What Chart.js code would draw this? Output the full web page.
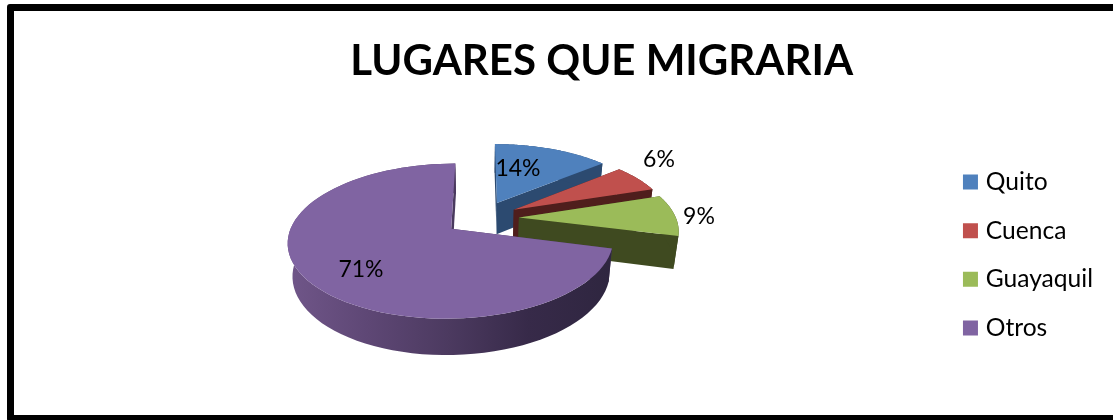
<!DOCTYPE html>
<html>
<head>
<meta charset="utf-8">
<title>Lugares que migraria</title>
<script src="https://cdn.jsdelivr.net/npm/chart.js@4/dist/chart.umd.min.js"></script>
<style>
  html, body { margin: 0; padding: 0; background: #fff; overflow: hidden; }
  #wrap { position: relative; width: 1113px; height: 420px; overflow: hidden; }
  #grafico { position: absolute; left: 0; top: 0; }
  /* marco negro, el lado derecho queda fuera de la imagen */
  #marco { position: absolute; left: 7px; top: 4px; width: 1200px; height: 404px;
           border: 7px solid #000; border-radius: 3px; pointer-events: none; }
</style>
</head>
<body>
<div id="wrap">
  <canvas id="grafico" width="1113" height="420"></canvas>
  <div id="marco"></div>
</div>
<script>
const categorias = ['Quito', 'Cuenca', 'Guayaquil', 'Otros'];
const valores = [14, 6, 9, 71];
const titulo = 'LUGARES QUE MIGRARIA';

const coloresCara = ['#4F81BD', '#C0504D', '#9BBB59', '#8064A2'];
const coloresLado = ['#2C4A70', '#4F1E1C', '#3F4A20', '#4A3A5E'];
const posEtiquetas = [[518, 169], [659, 160], [699, 217], [361, 270]];

// Proyeccion del pastel inclinado (Chart.js calcula los angulos)
const centroX = 481.5, centroY = 218, radio = 157, separacion = 37.5;
const inclinacion = 0.46, perspectiva = 0.155, alto = 32, encogeBase = 0.975;

function proyectar(u, v) {
    const s = 1 / (1 + perspectiva * v / radio);
    return { x: centroX + u * s, y: centroY - v * inclinacion * s, s: s };
}

function base(p) {
    return {
        x: centroX + (p.x - centroX) * encogeBase,
        y: centroY + (p.y - centroY) * encogeBase + alto * p.s
    };
}

function puntoArco(arc, angulo, r) {
    const medio = (arc.startAngle + arc.endAngle) / 2;
    const u = separacion * Math.cos(medio) + r * Math.cos(angulo);
    const v = -(separacion * Math.sin(medio) + r * Math.sin(angulo));
    return proyectar(u, v);
}

function rellenar(ctx, puntos, color) {
    ctx.beginPath();
    puntos.forEach((p, i) => i ? ctx.lineTo(p.x, p.y) : ctx.moveTo(p.x, p.y));
    ctx.closePath();
    ctx.fillStyle = color;
    ctx.fill();
}

function dibujarPorcion(ctx, arc, i) {
    const pasos = 80;
    const arco = [];
    for (let k = 0; k <= pasos; k++) {
        const a = arc.startAngle + (arc.endAngle - arc.startAngle) * k / pasos;
        arco.push(puntoArco(arc, a, radio));
    }
    const vertice = puntoArco(arc, arc.startAngle, 0);

    // paredes rectas
    const primero = arco[0], ultimo = arco[pasos];
    rellenar(ctx, [vertice, primero, base(primero), base(vertice)], coloresLado[i]);
    rellenar(ctx, [vertice, ultimo, base(ultimo), base(vertice)], coloresLado[i]);

    // pared curva, Otros lleva degradado
    let colorCurva = coloresLado[i];
    if (i === 3) {
        colorCurva = ctx.createLinearGradient(288, 0, 608, 0);
        colorCurva.addColorStop(0, '#705689');
        colorCurva.addColorStop(0.25, '#5E4775');
        colorCurva.addColorStop(0.5, '#4C3A60');
        colorCurva.addColorStop(0.75, '#372A49');
        colorCurva.addColorStop(1, '#2F2640');
    }
    rellenar(ctx, arco.concat(arco.map(base).reverse()), colorCurva);

    // cara superior
    rellenar(ctx, [vertice].concat(arco), coloresCara[i]);
}

const pastel3d = {
    id: 'pastel3d',
    beforeDatasetDraw(chart) {
        const ctx = chart.ctx;
        const arcos = chart.getDatasetMeta(0).data;
        ctx.save();
        arcos.forEach((arc, i) => dibujarPorcion(ctx, arc, i));

        const total = valores.reduce((a, b) => a + b, 0);
        ctx.fillStyle = '#000';
        ctx.font = '23px Lato';
        ctx.textAlign = 'center';
        ctx.textBaseline = 'middle';
        valores.forEach((v, i) => {
            ctx.fillText(Math.round(v / total * 100) + '%', posEtiquetas[i][0], posEtiquetas[i][1]);
        });
        ctx.restore();
        return false; // ya esta dibujado, Chart.js no pinta el pastel plano
    }
};

new Chart(document.getElementById('grafico'), {
    type: 'pie',
    data: {
        labels: categorias,
        datasets: [{
            data: valores,
            backgroundColor: coloresCara,
            borderColor: coloresCara,
            borderWidth: 9 // el cuadro de la leyenda crece con este borde
        }]
    },
    plugins: [pastel3d],
    options: {
        responsive: false,
        animation: false,
        layout: { padding: { left: 260, right: 10, top: 0, bottom: 0 } },
        plugins: {
            tooltip: { enabled: false },
            title: {
                display: true,
                text: titulo,
                fullSize: false,
                color: '#000',
                font: { family: 'Lato', size: 42, weight: 'bold' },
                padding: { top: 35.8, bottom: 3.8 }
            },
            legend: {
                position: 'right',
                fullSize: false,
                labels: {
                    boxWidth: 6,
                    boxHeight: 6,
                    padding: 24,
                    color: '#000',
                    font: { family: 'Lato', size: 24.6 }
                }
            }
        }
    }
});
</script>
</body>
</html>
